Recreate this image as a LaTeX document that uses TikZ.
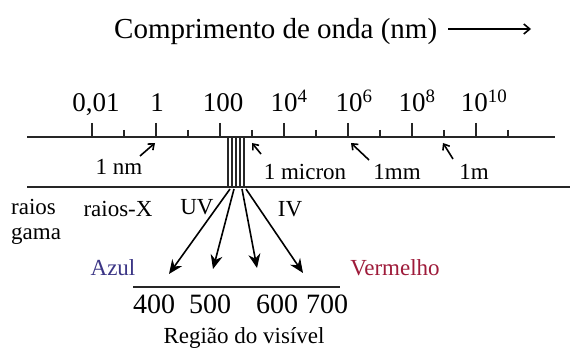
\documentclass[tikz,border=0pt]{standalone}
\usepackage{fontspec}
\setmainfont{Liberation Serif}
\usetikzlibrary{arrows.meta}
\definecolor{azulc}{HTML}{3B3585}
\definecolor{vermc}{HTML}{9E1B3A}
\begin{document}
\begin{tikzpicture}[x=1pt,y=-1pt,
  axisline/.style={line width=2.2pt,draw=black!85},
  tickmark/.style={line width=1.6pt,draw=black!85},
  bandline/.style={line width=1.5pt,draw=black!85},
  smallarrow/.style={line width=1.6pt,-{Straight Barb[length=5pt,width=8pt]}},
  fanarrow/.style={line width=1.6pt,-{Stealth[length=14pt,width=12pt]}},
  titlef/.style={font=\fontsize{29}{31}\selectfont,inner sep=0pt},
  tickf/.style={font=\fontsize{27}{29}\selectfont,inner sep=0pt,anchor=base},
  labf/.style={font=\fontsize{23}{25}\selectfont,inner sep=0pt,anchor=base},
  numf/.style={font=\fontsize{28}{30}\selectfont,inner sep=0pt,anchor=base}]
\useasboundingbox (0,0) rectangle (570,350);
% title
\node[titlef,anchor=base west] (title) at (114,39) {Comprimento de onda (nm)};
\coordinate (ta) at (448,29);
\coordinate (tb) at (531,29);
\draw[line width=1.6pt,-{Straight Barb[length=6pt,width=10pt]}] (ta) -- (tb);
% axis lines
\coordinate (t1) at (27,137); \coordinate (t2) at (555,137);
\coordinate (b1) at (27,187); \coordinate (b2) at (570,187);
\draw[axisline] (t1) -- (t2);
\draw[axisline] (b1) -- (b2);
% ticks
\foreach \x in {92,156,220,284,348,412,476} \draw[tickmark] (\x,123) -- (\x,137);
\foreach \x in {124,188,252,316,380,444,508} \draw[tickmark] (\x,130) -- (\x,137);
% tick labels
\node[tickf] (l1) at (96,112) {0,01};
\node[tickf] (l2) at (157,112) {1};
\node[tickf] (l3) at (223,112) {100};
\node[tickf] (l4) at (289,112) {10\textsuperscript{4}};
\node[tickf] (l5) at (354,112) {10\textsuperscript{6}};
\node[tickf] (l6) at (417,112) {10\textsuperscript{8}};
\node[tickf] (l7) at (484,112) {10\textsuperscript{10}};
% band
\foreach \x in {228,232,236,240,244} \draw[bandline] (\x,137) -- (\x,187);
% unit labels
\node[labf] (nm) at (119,175) {1 nm};
\node[labf] (mic) at (305,179) {1 micron};
\node[labf] (mm) at (397,179) {1mm};
\node[labf] (m) at (474,179) {1m};
\coordinate (nmt) at (155,143); \coordinate (nms) at (140,156);
\coordinate (mict) at (252,143); \coordinate (mics) at (261,154);
\coordinate (mmt) at (351,143); \coordinate (mms) at (369,160);
\coordinate (mt) at (443,143); \coordinate (ms) at (453,159);
\draw[smallarrow] (nms) -- (nmt);
\draw[smallarrow] (mics) -- (mict);
\draw[smallarrow] (mms) -- (mmt);
\draw[smallarrow] (ms) -- (mt);
% region labels
\node[labf,anchor=base west] (rg1) at (11,214) {raios};
\node[labf,anchor=base west] (rg2) at (11,239) {gama};
\node[labf] (rx) at (118,216) {raios-X};
\node[labf] (uv) at (197,214) {UV};
\node[labf] (iv) at (290,216) {IV};
% fan arrows
\coordinate (f1) at (230,189); \coordinate (f2) at (234,189);
\coordinate (f3) at (242,189); \coordinate (f4) at (246,189);
\coordinate (g1) at (169,274); \coordinate (g2) at (213,269);
\coordinate (g3) at (257,268); \coordinate (g4) at (303,273);
\draw[fanarrow] (f1) -- (g1);
\draw[fanarrow] (f2) -- (g2);
\draw[fanarrow] (f3) -- (g3);
\draw[fanarrow] (f4) -- (g4);
% visible region
\node[labf,text=azulc] (azul) at (113,275) {Azul};
\node[labf,text=vermc] (verm) at (395,275) {Vermelho};
\coordinate (v1) at (133,287); \coordinate (v2) at (340,287);
\draw[line width=1.8pt,draw=black!85] (v1) -- (v2);
\node[numf] (n4) at (154,313) {400};
\node[numf] (n5) at (210,313) {500};
\node[numf] (n6) at (277,313) {600};
\node[numf] (n7) at (327,313) {700};
\node[labf] (reg) at (244,343) {Região do visível};
\end{tikzpicture}
\end{document}
